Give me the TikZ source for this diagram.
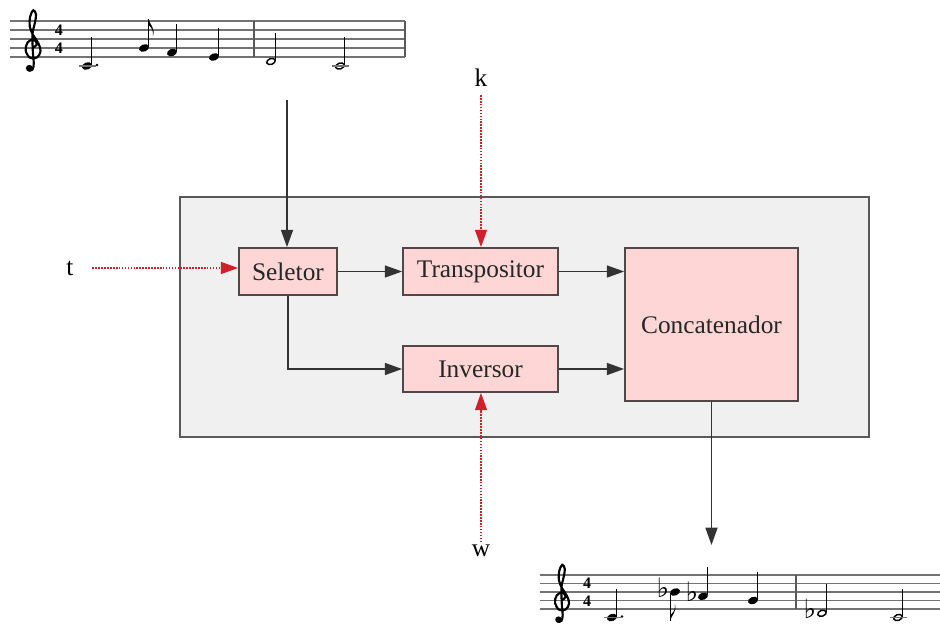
\documentclass[tikz,border=0pt]{standalone}
\usepackage{fontspec}
\setmainfont{Liberation Serif}
\newfontfamily\symbfont{DejaVu Sans}
\definecolor{blockpink}{rgb}{1.0, 0.84, 0.84}
\definecolor{panelgray}{rgb}{0.94, 0.94, 0.94}
\definecolor{paramred}{rgb}{0.82, 0.12, 0.18}
\definecolor{edgegray}{rgb}{0.32, 0.28, 0.28}
\usetikzlibrary{arrows.meta,positioning}

\tikzset{
  block/.style={draw=edgegray, fill=blockpink, line width=1.3pt, minimum height=35.25pt, inner sep=0pt, text=black!85, font=\fontsize{19}{22}\selectfont},
  varlabel/.style={inner sep=2pt, font=\fontsize{19}{22}\selectfont},
  flow/.style={-{Triangle[length=13pt,width=9pt]}, line width=1.2pt, color=black!80},
  param/.style={-{Triangle[length=13pt,width=9pt]}, line width=1pt, color=paramred, dash pattern=on 1.2pt off 1pt},
  staffline/.style={line width=0.8pt, color=black!55},
  barline/.style={line width=1pt, color=black!65},
  stem/.style={line width=0.8pt},
  flatsign/.style={inner sep=0pt, font=\symbfont\fontsize{20}{20}\selectfont},
  timesig/.style={inner sep=0pt, font=\fontsize{12}{12}\bfseries\selectfont},
  % notation pieces, pixel units, y up inside a pic
  gclef/.pic={
    \draw [line width=1.6pt, line cap=round] plot [smooth, tension=0.6] coordinates {(0.15,1.05) (0.55,1.45) (0.15,1.95) (-0.5,1.6) (-0.7,0.7) (-0.2,-0.1) (0.55,-0.05) (0.95,0.65) (0.7,1.55) (0.15,2.4) (-0.25,3.4) (-0.2,4.5) (0.15,5.2) (0.45,4.7) (0.3,3.7) (0.05,2.5) (0.1,0.5) (0.2,-0.7) (0.05,-1.4) (-0.35,-1.5)};
    \fill (-0.3,-1.25) circle (0.38);
  },
  qup/.pic={
    \fill [rotate=20] (0,0) ellipse (5.2 and 3.6);
    \draw [stem] (4.7,1) -- (4.7,29);
  },
  hup/.pic={
    \draw [line width=1.1pt, rotate=20] (0,0) ellipse (4.4 and 2.9);
    \draw [stem] (4.9,1) -- (4.9,29);
  },
  qdown/.pic={
    \fill [rotate=20] (0,0) ellipse (5.2 and 3.6);
    \draw [stem] (-4.7,-1) -- (-4.7,-29);
  },
  flagup/.pic={
    \fill (4.7,29) .. controls (5.5,23) and (11.5,21) .. (9,12) .. controls (9.5,18) and (7,21) .. (4.7,23) -- cycle;
  },
  flagdown/.pic={
    \fill (-4.7,-29) .. controls (-4,-23) and (2,-21) .. (0,-12) .. controls (0.5,-18) and (-2,-21) .. (-4.7,-23) -- cycle;
  },
  ledger/.pic={\draw [staffline] (-8.5,0) -- (8.5,0);},
  ndot/.pic={\fill (10,1) circle (1.3);},
}

\begin{document}
\begin{tikzpicture}[x=0.75pt,y=0.75pt,yscale=-1,xscale=1]
\useasboundingbox (0,0) rectangle (940,628);

% Panel
\draw [draw=black!65, fill=panelgray, line width=1.3pt] (180,197) rectangle (869,437);

% Blocks
\node [block, minimum width=73.5pt] (seletor) at (288,271.5) {Seletor};
\node [block, minimum width=116.25pt] (transp) at (480.5,271.5) {Transpositor};
\node [block, minimum width=116.25pt, minimum height=34.5pt] (inversor) at (480.5,369) {Inversor};
\node [block, minimum width=129.75pt, minimum height=114.75pt] (concat) at (711.5,324.5) {Concatenador};

% Parameters
\node [varlabel] (k) at (481,78) {k};
\node [varlabel] (t) at (70,268) {t};
\node [varlabel] (w) at (481,551) {w};

% Melody in
\foreach \i in {0,...,4}
  \draw [staffline] (10,21+9*\i) -- (405,21+9*\i);
\draw [barline] (254,21) -- (254,57) (405,21) -- (405,57);
\pic [scale=9] at (32,57) {gclef};
\node [timesig] (tsa1) at (59,30) {4};
\node [timesig] (tsa2) at (59,48) {4};
\pic at (87,66) {qup}; \pic at (87,66) {ledger}; \pic at (87,66) {ndot};
\pic at (144,48) {qup}; \pic at (144,48) {flagup};
\pic at (172,52.5) {qup};
\pic at (214,57) {qup};
\pic at (271,61.5) {hup};
\pic at (340,66) {hup}; \pic at (340,66) {ledger};

% Melody out
\foreach \i in {0,...,4}
  \draw [staffline] (540,575+8.5*\i) -- (940,575+8.5*\i);
\draw [barline] (796,575) -- (796,609);
\pic [scale=8.5] at (561,609) {gclef};
\node [timesig] (tsb1) at (587,583) {4};
\node [timesig] (tsb2) at (587,601) {4};
\pic at (612,617.5) {qup}; \pic at (612,617.5) {ledger}; \pic at (612,617.5) {ndot};
\node [flatsign] (fla) at (663,588) {♭};
\pic at (675,592) {qdown}; \pic at (675,592) {flagdown};
\node [flatsign] (flb) at (692,592) {♭};
\pic at (703,596.25) {qup};
\pic at (753,600.5) {qup};
\node [flatsign] (flc) at (810,609) {♭};
\pic at (822,613.25) {hup};
\pic at (898,617.5) {hup}; \pic at (898,617.5) {ledger};

\coordinate (melin) at (287,100);
\coordinate (melout) at (711.5,545);

% Connectors
\draw [flow] (melin) -- (melin |- seletor.north);
\draw [flow] (seletor) -- (transp);
\draw [flow] (seletor.south) |- (inversor.west);
\draw [flow] (transp.east) -- (transp.east -| concat.west);
\draw [flow] (inversor.east) -- (inversor.east -| concat.west);
\draw [flow] (concat.south) -- (melout);
\draw [param, shorten <=4pt] (k.south) -- (k.south |- transp.north);
\draw [param, shorten <=12pt] (t.east) -- (t.east -| seletor.west);
\draw [param] (w.north) -- (w.north |- inversor.south);

\end{tikzpicture}
\end{document}
